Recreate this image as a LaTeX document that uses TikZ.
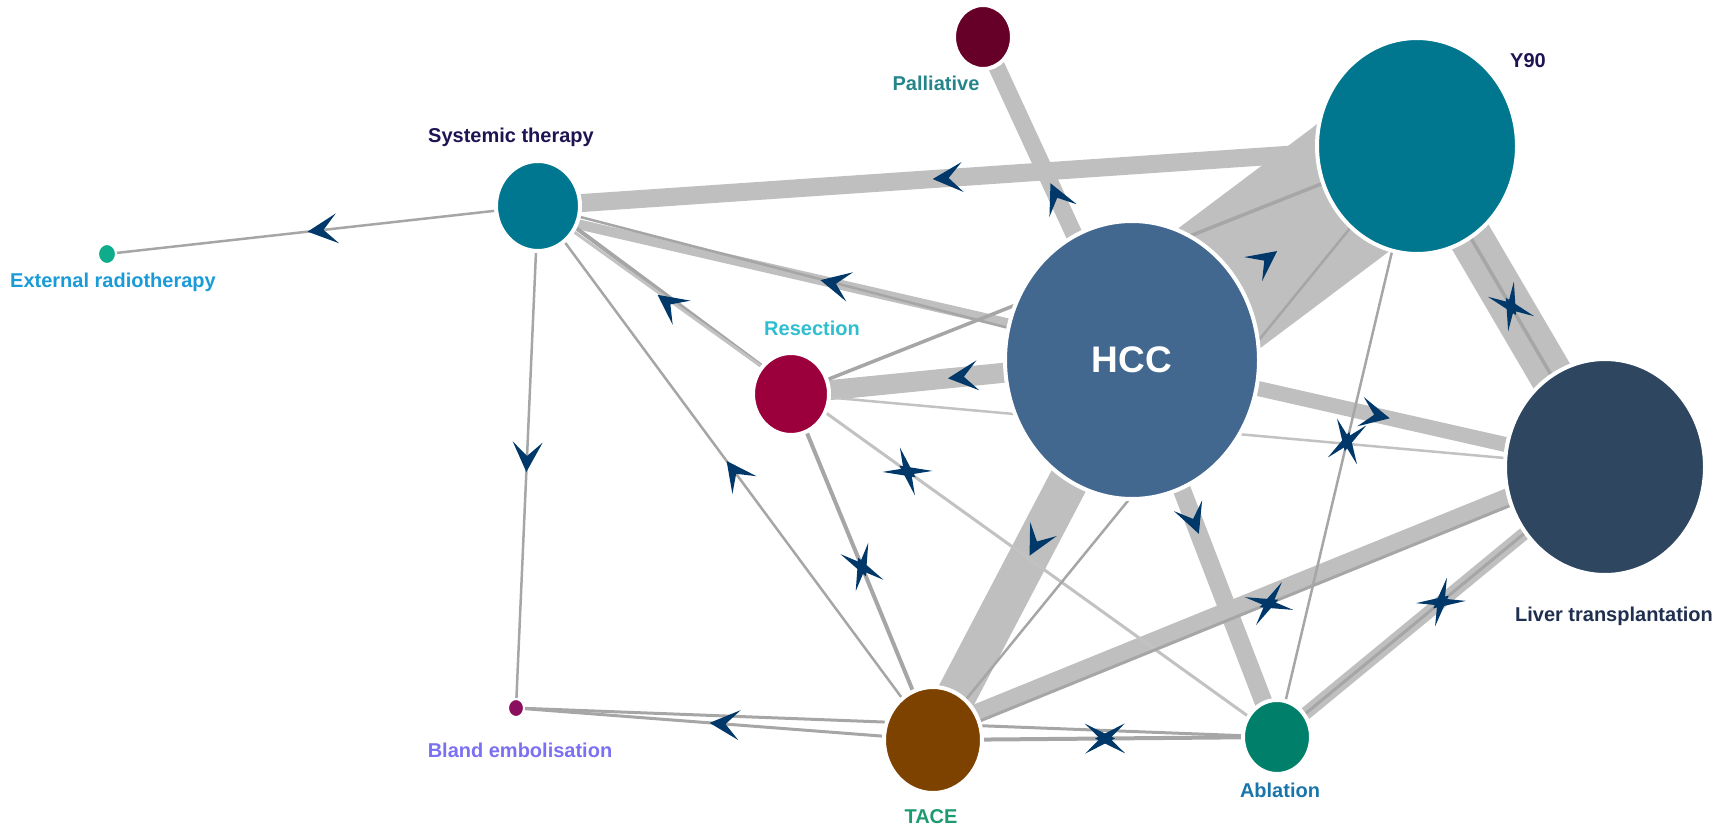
\documentclass[tikz,border=0pt]{standalone}
\usepackage{fontspec}
\setmainfont{Liberation Sans}
\usetikzlibrary{shapes.geometric,decorations.markings}
\pgfdeclarelayer{bg}
\pgfsetlayers{bg,main}
\definecolor{bandgray}{HTML}{BFBFBF}
\definecolor{linegray}{HTML}{A6A6A6}
\definecolor{lightline}{HTML}{C2C2C2}
\definecolor{navym}{HTML}{00386A}
\definecolor{cPal}{HTML}{660028}
\definecolor{cY}{HTML}{00778F}
\definecolor{cHCC}{HTML}{436890}
\definecolor{cLT}{HTML}{2F4660}
\definecolor{cAbl}{HTML}{00806A}
\definecolor{cTACE}{HTML}{7E4200}
\definecolor{cBland}{HTML}{8A0F5F}
\definecolor{cRes}{HTML}{9B003D}
\definecolor{cSys}{HTML}{007790}
\definecolor{cExt}{HTML}{0FAC8C}
\definecolor{tPal}{HTML}{25858A}
\definecolor{tIndigo}{HTML}{1D1452}
\definecolor{tExt}{HTML}{1A9BD7}
\definecolor{tRes}{HTML}{2EBFCF}
\definecolor{tBland}{HTML}{7B70F2}
\definecolor{tTACE}{HTML}{1C9A72}
\definecolor{tAbl}{HTML}{1A75AA}
\definecolor{tLT}{HTML}{1F2F4F}
\tikzset{
  tnode/.style={ellipse, draw=white, line width=4pt, inner sep=0pt},
  band/.style={draw=bandgray, line width=#1},
  ln/.style={draw=linegray, line width=#1},
  lnl/.style={draw=lightline, line width=#1},
  lbl/.style={font=\bfseries\fontsize{20}{24}\selectfont, inner sep=0pt},
  fwd/.style={postaction={decorate}, decoration={markings, mark=at position #1 with {\fill[navym] (15pt,0pt) -- (-15pt,15pt) -- (-1pt,0pt) -- (-15pt,-15pt) -- cycle;}}},
  bi/.style={postaction={decorate}, decoration={markings, mark=at position #1 with {\fill[navym] (10pt,0pt) -- (-20pt,15pt) -- (-5pt,0pt) -- (-20pt,-15pt) -- cycle; \fill[navym] (-10pt,0pt) -- (20pt,15pt) -- (5pt,0pt) -- (20pt,-15pt) -- cycle;}}}
}
\begin{document}
\begin{tikzpicture}[x=1pt,y=-1pt]
\useasboundingbox (0,0) rectangle (1729,829);
% nodes
\node[tnode, fill=cPal, minimum width=58pt, minimum height=64pt] (pal) at (983,37) {};
\node[tnode, fill=cY, minimum width=200pt, minimum height=216pt] (y90) at (1417,146) {};
\node[tnode, fill=cHCC, minimum width=254pt, minimum height=278pt, text=white, font=\bfseries\fontsize{37}{40}\selectfont] (hcc) at (1132,360) {HCC};
\node[tnode, fill=cLT, minimum width=200pt, minimum height=216pt] (lt) at (1605,467) {};
\node[tnode, fill=cAbl, minimum width=68pt, minimum height=74pt] (abl) at (1277,737) {};
\node[tnode, fill=cTACE, minimum width=98pt, minimum height=106pt] (tace) at (933,740) {};
\node[tnode, fill=cBland, line width=2pt, minimum width=16pt, minimum height=18pt] (bland) at (516,708) {};
\node[tnode, fill=cRes, minimum width=76pt, minimum height=82pt] (res) at (791,394) {};
\node[tnode, fill=cSys, minimum width=84pt, minimum height=90pt] (sys) at (538,206) {};
\node[tnode, fill=cExt, line width=2pt, minimum width=18pt, minimum height=20pt] (ext) at (107,254) {};
% labels
\node[lbl, text=tPal] (palL) at (936,83) {Palliative};
\node[lbl, text=tIndigo] (y90L) at (1528,61) {Y90};
\node[lbl, text=tIndigo] (sysL) at (511,137) {Systemic therapy};
\node[lbl, text=tExt] (extL) at (113,282) {External radiotherapy};
\node[lbl, text=tRes] (resL) at (812,328) {Resection};
\node[lbl, text=tBland] (blandL) at (520,750) {Bland embolisation};
\node[lbl, text=tTACE] (taceL) at (931,817) {TACE};
\node[lbl, text=tAbl] (ablL) at (1280,790) {Ablation};
\node[lbl, text=tLT] (ltL) at (1614,616) {Liver transplantation};
\begin{pgfonlayer}{bg}
% thick bands
\draw[band=145] ([xshift=-3pt,yshift=4pt]hcc.center) -- ([xshift=-3pt,yshift=4pt]y90.center);
\draw[band=18] (y90.center) -- (sys.center);
\draw[band=10] ([yshift=8pt]hcc.center) -- ([yshift=-9pt]sys.center);
\draw[band=17] (hcc.center) -- (pal.center);
\draw[band=44] (y90.center) -- (lt.center);
\draw[band=15] (hcc.center) -- (lt.center);
\draw[band=20] (hcc.center) -- (res.center);
\draw[band=40] (hcc.center) -- (tace.center);
\draw[band=18] (hcc.center) -- (abl.center);
\draw[band=18] ([xshift=-3pt,yshift=8pt]tace.center) -- ([xshift=-3pt,yshift=8pt]lt.center);
\draw[band=13] (abl.center) -- (lt.center);
% thin lines
\draw[ln=2.5] (sys.center) -- (ext.center);
\draw[ln=2.5] (sys.center) -- (bland.center);
\draw[ln=2.5] (sys.center) -- (hcc.center);
\draw[ln=2.5] (sys.center) -- (tace.center);
\draw[ln=4] ([xshift=3pt,yshift=4pt]res.center) -- ([xshift=3pt,yshift=4pt]sys.center);
\draw[lnl=3] (sys.center) -- (abl.center);
\draw[ln=3.5] (res.center) -- (y90.center);
\draw[ln=2.5] (tace.center) -- (y90.center);
\draw[lnl=2.5] (res.center) -- (lt.center);
\draw[ln=4] (res.center) -- (tace.center);
\draw[ln=3] (tace.center) -- (bland.center);
\draw[ln=3] (bland.center) -- (abl.center);
\draw[ln=4] (tace.center) -- (abl.center);
\draw[ln=3] (tace.center) -- (lt.center);
\draw[ln=3] (abl.center) -- (lt.center);
\draw[ln=3.5] (y90.center) -- (lt.center);
\draw[ln=2.5] (y90.center) -- (abl.center);
% markers
\path[fwd=0.5] (sys.center) -- (ext.center);
\path[fwd=0.5] (sys.center) -- (bland.center);
\path[fwd=0.534] (y90.center) -- (sys.center);
\path[fwd=0.5] ([yshift=8pt]hcc.center) -- ([yshift=-9pt]sys.center);
\path[fwd=0.48] (res.center) -- (sys.center);
\path[fwd=0.5] (tace.center) -- (sys.center);
\path[fwd=0.505] (hcc.center) -- (pal.center);
\path[fwd=0.467] (hcc.center) -- (y90.center);
\path[bi=0.5] (y90.center) -- (lt.center);
\path[fwd=0.514] (hcc.center) -- (lt.center);
\path[bi=0.5] (y90.center) -- (abl.center);
\path[fwd=0.496] (hcc.center) -- (res.center);
\path[fwd=0.48] (hcc.center) -- (tace.center);
\path[bi=0.5] (res.center) -- (tace.center);
\path[bi=0.5] (sys.center) -- (abl.center);
\path[fwd=0.5] (tace.center) -- (bland.center);
\path[bi=0.5] (tace.center) -- (abl.center);
\path[bi=0.5] (tace.center) -- (lt.center);
\path[bi=0.5] (abl.center) -- (lt.center);
\path[fwd=0.424] (hcc.center) -- (abl.center);
\end{pgfonlayer}
\end{tikzpicture}
\end{document}
